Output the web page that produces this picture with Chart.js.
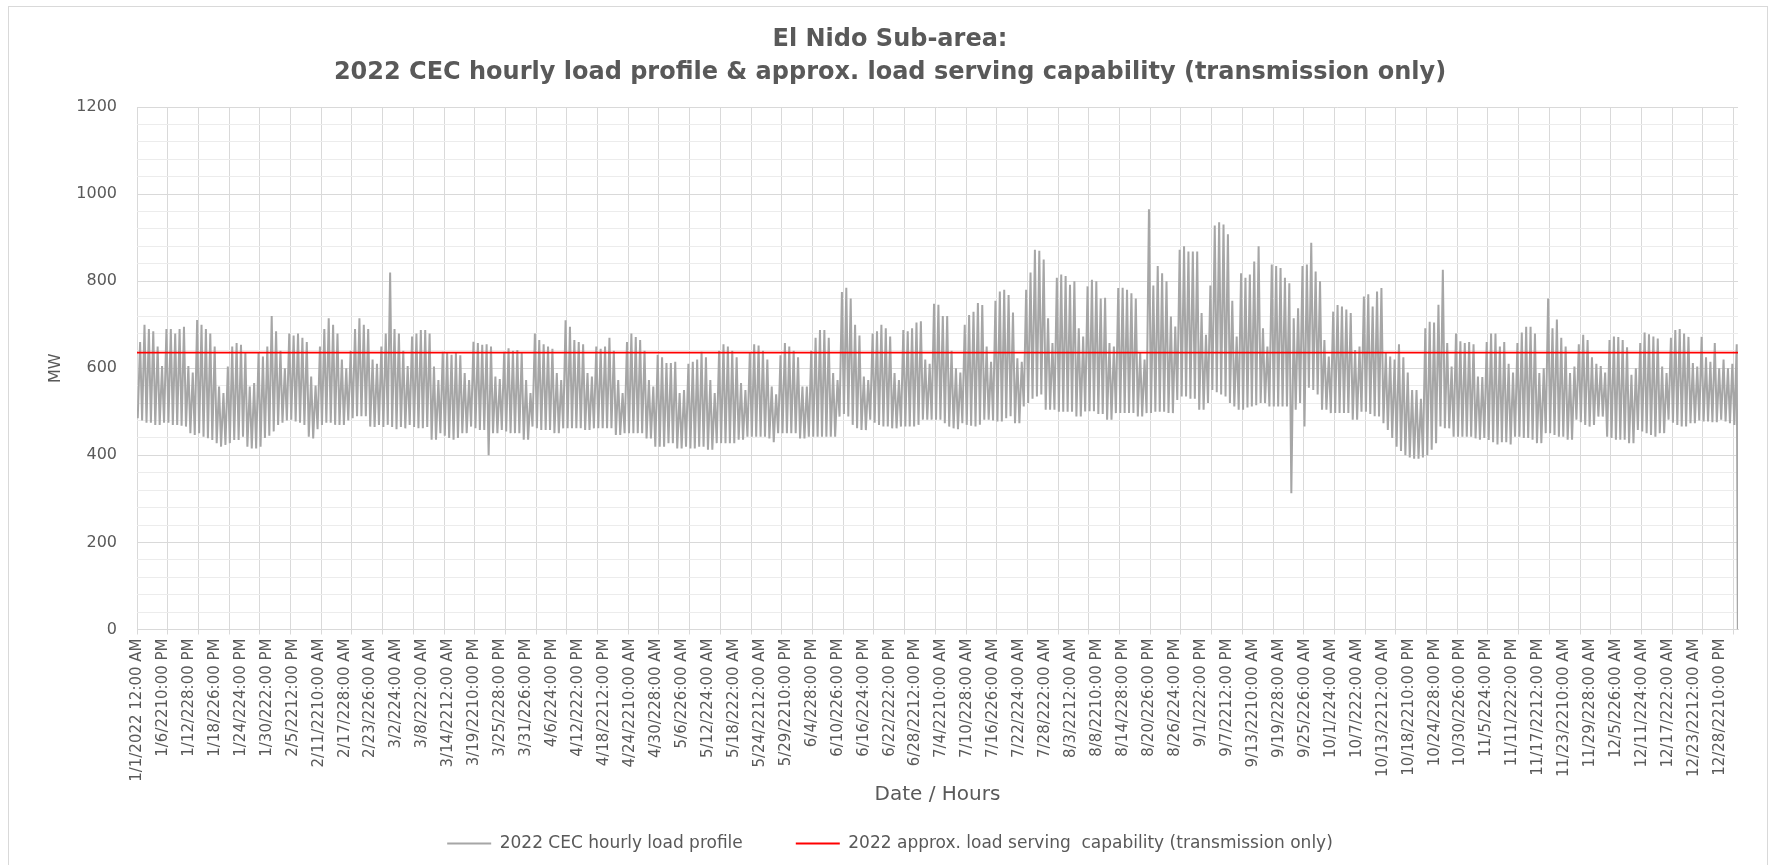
<!DOCTYPE html>
<html lang="en">
<head>
    <meta charset="UTF-8">
    <title>El Nido Sub-area: 2022 CEC hourly load profile</title>
    <script src="https://cdn.jsdelivr.net/npm/chart.js"></script>
    <style>
        html, body { margin: 0; padding: 0; background: #ffffff; }
        #wrap { width: 1772px; height: 865px; }
    </style>
</head>
<body>
<div id="wrap"><canvas id="load-chart" width="1772" height="865"></canvas></div>
<script>
// x axis tick labels (one every 142 hours, as in the source sheet)
const tickLabels = [
    '1/1/2022 12:00 AM', '1/6/2210:00 PM', '1/12/228:00 PM', '1/18/226:00 PM', '1/24/224:00 PM',
    '1/30/222:00 PM', '2/5/2212:00 PM', '2/11/2210:00 AM', '2/17/228:00 AM', '2/23/226:00 AM',
    '3/2/224:00 AM', '3/8/222:00 AM', '3/14/2212:00 AM', '3/19/2210:00 PM', '3/25/228:00 PM',
    '3/31/226:00 PM', '4/6/224:00 PM', '4/12/222:00 PM', '4/18/2212:00 PM', '4/24/2210:00 AM',
    '4/30/228:00 AM', '5/6/226:00 AM', '5/12/224:00 AM', '5/18/222:00 AM', '5/24/2212:00 AM',
    '5/29/2210:00 PM', '6/4/228:00 PM', '6/10/226:00 PM', '6/16/224:00 PM', '6/22/222:00 PM',
    '6/28/2212:00 PM', '7/4/2210:00 AM', '7/10/228:00 AM', '7/16/226:00 AM', '7/22/224:00 AM',
    '7/28/222:00 AM', '8/3/2212:00 AM', '8/8/2210:00 PM', '8/14/228:00 PM', '8/20/226:00 PM',
    '8/26/224:00 PM', '9/1/222:00 PM', '9/7/2212:00 PM', '9/13/2210:00 AM', '9/19/228:00 AM',
    '9/25/226:00 AM', '10/1/224:00 AM', '10/7/222:00 AM', '10/13/2212:00 AM', '10/18/2210:00 PM',
    '10/24/228:00 PM', '10/30/226:00 PM', '11/5/224:00 PM', '11/11/222:00 PM', '11/17/2212:00 PM',
    '11/23/2210:00 AM', '11/29/228:00 AM', '12/5/226:00 AM', '12/11/224:00 AM', '12/17/222:00 AM',
    '12/23/2212:00 AM', '12/28/2210:00 PM'
];

// daily peak load, MW (one row per week)
const dailyPeak = [
    660, 700, 690, 685, 650, 605, 690,
    690, 680, 690, 695, 605, 590, 711,
    700, 690, 680, 650, 558, 543, 604,
    650, 658, 654, 635, 558, 566, 635,
    627, 650, 720, 685, 640, 600, 680,
    675, 680, 670, 660, 581, 560, 650,
    690, 715, 700, 680, 620, 600, 640,
    690, 715, 700, 690, 620, 610, 650,
    680, 820, 690, 680, 640, 605, 673,
    680, 688, 688, 680, 604, 573, 638,
    635, 631, 635, 630, 589, 573, 661,
    658, 654, 655, 650, 581, 575, 638,
    646, 640, 642, 635, 573, 543, 680,
    665, 655, 650, 645, 589, 573, 710,
    695, 665, 660, 655, 589, 581, 650,
    645, 650, 670, 640, 573, 543, 660,
    680, 672, 665, 640, 573, 558, 631,
    625, 612, 612, 615, 543, 550, 610,
    615, 620, 638, 625, 573, 543, 640,
    655, 650, 640, 625, 566, 550, 635,
    655, 652, 640, 620, 558, 540, 630,
    658, 650, 640, 625, 558, 558, 640,
    670, 688, 688, 670, 589, 573, 775,
    785, 760, 700, 675, 581, 573, 680,
    685, 700, 692, 673, 589, 573, 688,
    685, 692, 705, 708, 620, 610, 748,
    746, 720, 720, 640, 600, 590, 700,
    722, 730, 750, 745, 650, 615, 755,
    776, 780, 768, 728, 623, 615, 780,
    820, 872, 870, 850, 715, 658, 808,
    815, 812, 792, 800, 692, 673, 788,
    803, 800, 760, 762, 658, 650, 784,
    785, 780, 772, 760, 635, 620, 965,
    790, 835, 818, 800, 719, 696, 872,
    880, 868, 868, 868, 727, 677, 790,
    928, 935, 930, 908, 755, 673, 818,
    808, 815, 845, 880, 692, 650, 838,
    835, 830, 808, 795, 715, 738, 835,
    838, 888, 822, 800, 665, 627, 730,
    745, 742, 735, 727, 642, 650, 765,
    770, 742, 776, 784, 635, 627, 620,
    655, 625, 590, 550, 550, 530, 692,
    707, 705, 746, 826, 658, 604, 680,
    662, 658, 660, 655, 581, 580, 660,
    680, 680, 650, 660, 610, 590, 658,
    682, 695, 695, 680, 589, 600, 760,
    692, 712, 670, 650, 589, 604, 655,
    677, 665, 625, 610, 605, 590, 665,
    673, 672, 665, 648, 585, 600, 658,
    682, 678, 673, 668, 604, 589, 670,
    688, 690, 680, 672, 612, 604, 672,
    625, 615, 658, 600, 620, 600, 610,
    655
];

// daily minimum load, MW
const dailyLow = [
    485, 480, 475, 475, 470, 470, 475,
    475, 470, 470, 468, 466, 451, 447,
    451, 443, 439, 435, 428, 420, 424,
    428, 435, 435, 443, 420, 416, 416,
    420, 440, 445, 455, 470, 475, 480,
    482, 478, 475, 470, 443, 439, 460,
    470, 475, 475, 470, 470, 470, 480,
    485, 490, 490, 490, 466, 465, 470,
    465, 470, 465, 460, 465, 462, 470,
    465, 462, 462, 465, 436, 436, 451,
    445, 440, 436, 440, 451, 451, 466,
    462, 458, 458, 400, 451, 451, 458,
    455, 451, 451, 451, 436, 436, 466,
    462, 458, 458, 458, 451, 451, 462,
    462, 462, 462, 462, 458, 458, 462,
    462, 462, 462, 462, 447, 447, 451,
    451, 451, 451, 451, 439, 439, 420,
    420, 420, 428, 428, 416, 416, 420,
    416, 416, 420, 420, 413, 413, 428,
    428, 428, 428, 428, 436, 436, 443,
    443, 443, 443, 443, 439, 430, 451,
    451, 451, 451, 451, 439, 439, 443,
    443, 443, 443, 443, 443, 443, 489,
    495, 489, 470, 462, 458, 458, 482,
    475, 470, 466, 466, 462, 462, 466,
    466, 466, 466, 470, 482, 482, 482,
    482, 482, 474, 466, 462, 460, 474,
    470, 468, 466, 470, 482, 482, 480,
    478, 478, 485, 490, 474, 474, 512,
    520, 530, 535, 540, 505, 505, 505,
    500, 500, 500, 500, 489, 489, 501,
    501, 501, 495, 495, 482, 482, 497,
    497, 497, 497, 497, 489, 489, 497,
    497, 500, 500, 500, 497, 497, 527,
    535, 535, 530, 530, 505, 505, 520,
    550, 545, 540, 535, 520, 512, 505,
    505, 510, 512, 515, 520, 520, 512,
    512, 512, 512, 512, 313, 505, 520,
    466, 555, 550, 540, 505, 505, 497,
    497, 497, 497, 497, 482, 482, 500,
    500, 495, 490, 489, 474, 458, 440,
    420, 410, 400, 395, 392, 392, 395,
    400, 413, 428, 466, 462, 462, 443,
    443, 443, 443, 443, 439, 436, 440,
    435, 430, 425, 430, 430, 425, 443,
    443, 440, 440, 436, 428, 428, 451,
    451, 447, 443, 443, 436, 436, 482,
    476, 470, 466, 470, 489, 489, 443,
    440, 436, 436, 436, 428, 428, 458,
    455, 451, 447, 443, 451, 451, 482,
    475, 470, 466, 466, 474, 474, 480,
    478, 478, 476, 476, 482, 478, 474,
    470
];

const lastHourLoad = 0;          // the profile drops to 0 in its final hour
const servingCapability = 636;   // approx. load serving capability, MW

const HOURS_PER_DAY = 24;
const TOTAL_HOURS = 8760;
const LOW_HOUR = 4;      // daily minimum around early morning
const PEAK_HOUR = 17;    // daily peak in the evening
const LABEL_STEP = 142;  // hours between x labels
const GRID_STEP = 168;   // hours between vertical gridlines

const textColor = '#595959';

// hourly line: minimum and peak of each day, in hour order
const loadPoints = [];
dailyLow.forEach(function(low, day) {
    loadPoints.push({ x: day * HOURS_PER_DAY + LOW_HOUR, y: low });
    loadPoints.push({ x: day * HOURS_PER_DAY + PEAK_HOUR, y: dailyPeak[day] });
});
loadPoints.push({ x: TOTAL_HOURS - 1, y: lastHourLoad });

const capabilityPoints = [
    { x: 0, y: servingCapability },
    { x: TOTAL_HOURS, y: servingCapability }
];

const gridHours = [];
for (let h = 0; h <= TOTAL_HOURS; h += GRID_STEP) gridHours.push(h);

// light frame round the whole chart, like the spreadsheet chart area
const chartFrame = {
    id: 'chartFrame',
    beforeDraw(chart) {
        const c = chart.ctx;
        c.save();
        c.fillStyle = '#ffffff';
        c.fillRect(0, 0, chart.width, chart.height);
        c.strokeStyle = '#d9d9d9';
        c.lineWidth = 1;
        c.strokeRect(8.5, 6.5, 1759, 900);
        c.restore();
    }
};

const ctx = document.getElementById('load-chart').getContext('2d');
new Chart(ctx, {
    type: 'line',
    data: {
        datasets: [{
            label: '2022 CEC hourly load profile',
            data: loadPoints,
            borderColor: '#a6a6a6',
            borderWidth: 2,
            pointRadius: 0,
            tension: 0,
            order: 1
        }, {
            label: '2022 approx. load serving  capability (transmission only)',
            data: capabilityPoints,
            borderColor: '#ff0000',
            borderWidth: 1.8,
            pointRadius: 0,
            order: 0
        }]
    },
    options: {
        responsive: false,
        animation: false,
        devicePixelRatio: 1,
        layout: { padding: { left: 42, right: 34, top: 0, bottom: 3 } },
        plugins: {
            title: {
                display: true,
                text: ['El Nido Sub-area:', '2022 CEC hourly load profile & approx. load serving capability (transmission only)'],
                color: textColor,
                font: { family: 'DejaVu Sans', weight: 'bold', size: 24, lineHeight: 1.375 },
                padding: { top: 23, bottom: 18 }
            },
            legend: {
                position: 'bottom',
                labels: {
                    usePointStyle: true,
                    pointStyle: 'line',
                    pointStyleWidth: 44,
                    padding: 53,
                    color: textColor,
                    font: { family: 'DejaVu Sans', size: 17 },
                    sort: (a, b) => a.datasetIndex - b.datasetIndex
                }
            },
            tooltip: { enabled: false }
        },
        scales: {
            x: {
                type: 'linear',
                min: 0,
                max: TOTAL_HOURS,
                weight: 0,
                afterBuildTicks: (scale) => { scale.ticks = gridHours.map(v => ({ value: v })); },
                afterFit: (scale) => { scale.height = 5; },
                ticks: { display: false },
                grid: { color: '#d9d9d9', drawTicks: true, tickLength: 5 },
                border: { color: '#d9d9d9' }
            },
            xl: {
                type: 'linear',
                position: 'bottom',
                min: 0,
                max: TOTAL_HOURS,
                weight: 1,
                afterBuildTicks: (scale) => { scale.ticks = tickLabels.map((_, i) => ({ value: i * LABEL_STEP })); },
                afterFit: (scale) => { scale.height = 147.5; },
                ticks: {
                    autoSkip: false,
                    minRotation: 90,
                    maxRotation: 90,
                    padding: 4,
                    color: textColor,
                    font: { family: 'DejaVu Sans', size: 15 },
                    callback: (value, index) => tickLabels[index]
                },
                grid: { display: false, drawTicks: false },
                border: { display: false },
                title: {
                    display: true,
                    text: 'Date / Hours',
                    color: textColor,
                    font: { family: 'DejaVu Sans', size: 20 },
                    padding: { top: 0, bottom: -25 }
                }
            },
            y: {
                min: 0,
                max: 1200,
                afterFit: (scale) => { scale.width = 95; },
                ticks: {
                    stepSize: 40,
                    autoSkip: false,
                    padding: 20,
                    color: textColor,
                    font: { family: 'DejaVu Sans', size: 16 },
                    callback: (value) => (value % 200 === 0 ? value : '')
                },
                grid: {
                    drawTicks: false,
                    color: (c) => (c.tick && c.tick.value % 200 === 0 ? '#d9d9d9' : '#ececec')
                },
                border: { display: false },
                title: {
                    display: true,
                    text: 'MW',
                    color: textColor,
                    font: { family: 'DejaVu Sans', size: 16 },
                    padding: { top: 4, bottom: 0 }
                }
            }
        }
    },
    plugins: [chartFrame]
});
</script>
</body>
</html>
